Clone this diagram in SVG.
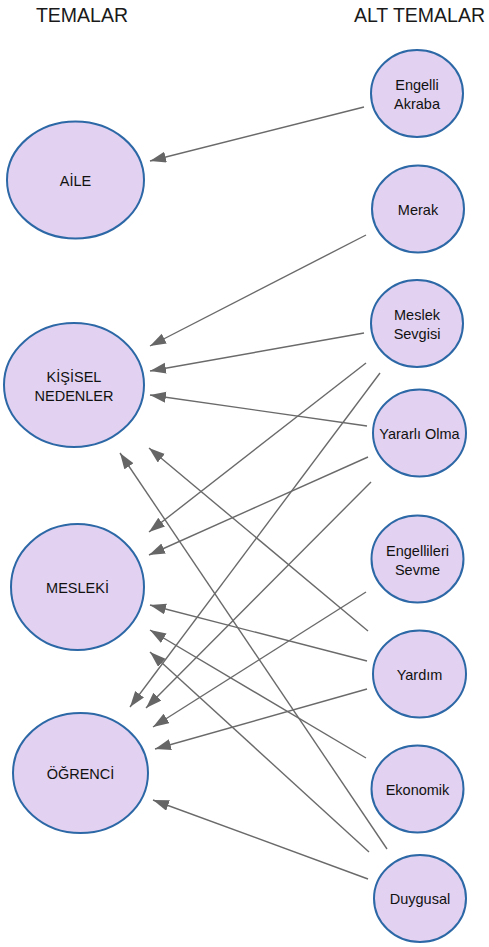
<svg xmlns="http://www.w3.org/2000/svg" width="489" height="947" viewBox="0 0 489 947">
<style>
.node ellipse{fill:#e2d1f0;stroke:#2d68a6;stroke-width:2}
.node text,.lbl{font-family:"Liberation Sans",Arial,sans-serif;font-size:14.5px;fill:#111;text-anchor:middle}
.title{font-family:"Liberation Sans",Arial,sans-serif;font-size:19.5px;fill:#1a1a1a;text-anchor:middle}
.edges line{stroke:#6a6a6a;stroke-width:1.4;marker-end:url(#arr)}
</style>
<defs>
<marker id="arr" markerUnits="userSpaceOnUse" markerWidth="17" markerHeight="12" refX="16" refY="5.5" orient="auto">
<path d="M0,0 L16,5.5 L0,11 z" fill="#666"/>
</marker>
</defs>
<rect width="489" height="947" fill="#fff"/>
<text class="title" x="82" y="22">TEMALAR</text>
<text class="title" x="419.5" y="22">ALT TEMALAR</text>
<g class="edges">
<line x1="364" y1="107" x2="150" y2="161"/>
<line x1="366" y1="235" x2="150" y2="346"/>
<line x1="364" y1="333" x2="150" y2="371"/>
<line x1="367" y1="426" x2="150" y2="395"/>
<line x1="368" y1="631" x2="149" y2="448"/>
<line x1="387" y1="849" x2="120" y2="453"/>
<line x1="366" y1="363" x2="149" y2="532"/>
<line x1="368" y1="457" x2="149" y2="555"/>
<line x1="367" y1="661" x2="150" y2="605"/>
<line x1="366" y1="758" x2="150" y2="630"/>
<line x1="369" y1="852" x2="150" y2="652"/>
<line x1="380" y1="373" x2="130" y2="707"/>
<line x1="371" y1="482" x2="146" y2="708"/>
<line x1="366" y1="592" x2="153" y2="727"/>
<line x1="367" y1="689" x2="155" y2="749"/>
<line x1="368" y1="879" x2="153" y2="800"/>
</g>
<g id="aile" class="node"><ellipse cx="75.5" cy="180" rx="68.5" ry="58.5"/><text x="75.5" y="185.5">AİLE</text></g>
<g id="kisisel" class="node"><ellipse cx="74" cy="385" rx="70" ry="62"/><text x="74" y="381.5">KİŞİSEL</text><text x="74" y="400.5">NEDENLER</text></g>
<g id="mesleki" class="node"><ellipse cx="77.5" cy="587" rx="66.5" ry="63"/><text x="77.5" y="592.5">MESLEKİ</text></g>
<g id="ogrenci" class="node"><ellipse cx="80.5" cy="773" rx="67.5" ry="60"/><text x="80.5" y="778.5">ÖĞRENCİ</text></g>
<g id="engelli-akraba" class="node"><ellipse cx="417" cy="93.5" rx="46" ry="43.5"/><text x="417" y="90">Engelli</text><text x="417" y="109">Akraba</text></g>
<g id="merak" class="node"><ellipse cx="418" cy="209" rx="46" ry="43.5"/><text x="418" y="214.5">Merak</text></g>
<g id="meslek-sevgisi" class="node"><ellipse cx="417" cy="323.5" rx="46" ry="43.5"/><text x="417" y="320">Meslek</text><text x="417" y="339">Sevgisi</text></g>
<g id="yararli-olma" class="node"><ellipse cx="419.5" cy="433" rx="46.5" ry="43.5"/><text x="419.5" y="438.5">Yararlı Olma</text></g>
<g id="engellileri-sevme" class="node"><ellipse cx="417.5" cy="559" rx="46" ry="43.5"/><text x="417.5" y="555.5">Engellileri</text><text x="417.5" y="574.5">Sevme</text></g>
<g id="yardim" class="node"><ellipse cx="419.5" cy="674" rx="46.5" ry="43.5"/><text x="419.5" y="679.5">Yardım</text></g>
<g id="ekonomik" class="node"><ellipse cx="417.5" cy="789" rx="46" ry="43.5"/><text x="417.5" y="794.5">Ekonomik</text></g>
<g id="duygusal" class="node"><ellipse cx="420" cy="898.5" rx="46" ry="43.5"/><text x="420" y="904">Duygusal</text></g>
</svg>
